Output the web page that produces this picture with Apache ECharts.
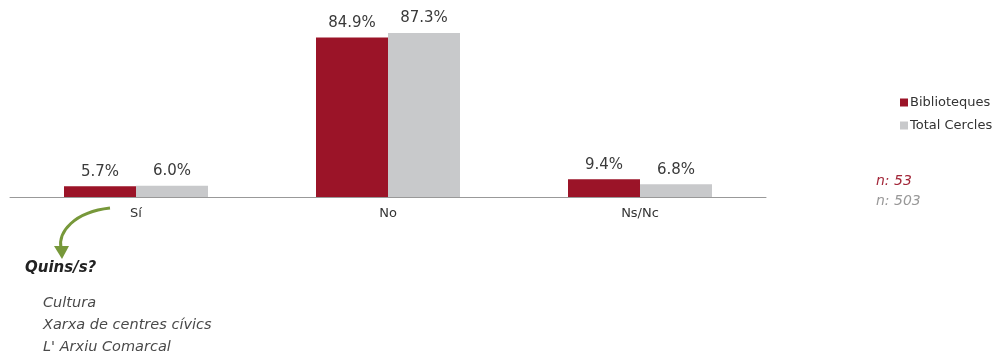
<!DOCTYPE html>
<html>
<head>
<meta charset="utf-8">
<script src="https://cdn.jsdelivr.net/npm/echarts@6/dist/echarts.min.js"></script>
<style>
  html, body { margin: 0; padding: 0; background: #fff; }
  #container { width: 997px; height: 353px; }
</style>
</head>
<body>
<div id="container"></div>
<script>
const categories = ['Sí', 'No', 'Ns/Nc'];
const biblioteques = [5.7, 84.9, 9.4];
const totalCercles = [6.0, 87.3, 6.8];
const sampleSizes = ['n: 53', 'n: 503'];
const quinsItems = ['Cultura', 'Xarxa de centres cívics', "L' Arxiu Comarcal"];

function draw_chart() {
    let dom = document.getElementById("container");
    let myChart = echarts.init(dom);
    const font = 'DejaVu Sans';

    let labelStyle = {
        show: true,
        position: 'top',
        distance: 7,
        color: '#3a3a3a',
        fontSize: 15,
        fontFamily: font,
        formatter: function (p) { return p.value.toFixed(1) + '%'; }
    };

    let option = {
        animation: false,
        textStyle: { fontFamily: font },
        grid: { left: 10, right: 231, top: 9, bottom: 156 },
        legend: {
            orient: 'vertical',
            left: 895,
            top: 91,
            itemWidth: 8,
            itemHeight: 8,
            itemGap: 10,
            icon: 'rect',
            textStyle: { color: '#333', fontSize: 13, fontFamily: font, padding: [0, 0, 0, -3] },
            data: ['Biblioteques', 'Total Cercles']
        },
        xAxis: {
            type: 'category',
            data: categories,
            axisLine: { lineStyle: { color: '#999' } },
            axisTick: { show: false },
            axisLabel: { color: '#333', fontSize: 13, margin: 10, fontFamily: font }
        },
        yAxis: {
            type: 'value',
            min: 0,
            max: 100,
            show: false,
            splitLine: { show: false }
        },
        graphic: [
            {
                type: 'bezierCurve',
                shape: { x1: 110, y1: 208, cpx1: 74, cpy1: 212, cpx2: 58, cpy2: 232, x2: 61, y2: 248 },
                style: { stroke: '#77983a', lineWidth: 3, fill: null }
            },
            {
                type: 'polygon',
                shape: { points: [[54, 246], [69, 246], [62, 259]] },
                style: { fill: '#77983a' }
            },
            {
                type: 'text', left: 25, top: 261,
                style: { text: 'Quins/s?', font: 'italic bold 15px "DejaVu Sans"', fill: '#222' }
            },
            {
                type: 'text', left: 43, top: 292,
                style: { text: quinsItems.join('\n'), font: 'italic 14.5px "DejaVu Sans"', fill: '#4a4a4a', lineHeight: 22 }
            },
            {
                type: 'text', left: 876, top: 174,
                style: { text: sampleSizes[0], font: 'italic 14px "DejaVu Sans"', fill: '#a3283a' }
            },
            {
                type: 'text', left: 876, top: 194,
                style: { text: sampleSizes[1], font: 'italic 14px "DejaVu Sans"', fill: '#999' }
            }
        ],
        series: [
            {
                name: 'Biblioteques',
                type: 'bar',
                data: biblioteques,
                barWidth: 72,
                barGap: '0%',
                itemStyle: { color: '#9b1428' },
                label: labelStyle
            },
            {
                name: 'Total Cercles',
                type: 'bar',
                data: totalCercles,
                barWidth: 72,
                barGap: '0%',
                itemStyle: { color: '#c8c9cb' },
                label: labelStyle
            }
        ]
    };

    myChart.setOption(option, true);
}
draw_chart();
</script>
</body>
</html>
